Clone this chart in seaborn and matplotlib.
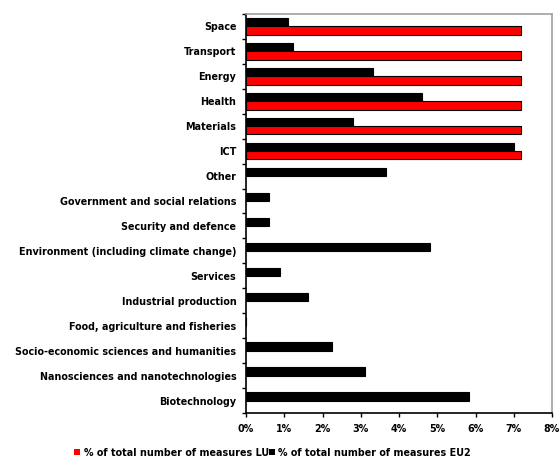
import matplotlib
matplotlib.use("Agg")
import matplotlib.pyplot as plt
from matplotlib.patches import Patch
from matplotlib.ticker import PercentFormatter, FixedLocator
import numpy as np
import pandas as pd
import seaborn as sns

categories = [
    "Space", "Transport", "Energy", "Health", "Materials", "ICT", "Other",
    "Government and social relations", "Security and defence",
    "Environment (including climate change)", "Services",
    "Industrial production", "Food, agriculture and fisheries",
    "Socio-economic sciences and humanities",
    "Nanosciences and nanotechnologies", "Biotechnology",
]
# share of measures (%) per theme
eu2_values = [1.11, 1.22, 3.33, 4.60, 2.79, 7.00, 3.66,
              0.61, 0.61, 4.80, 0.90, 1.63, 0.0, 2.26, 3.12, 5.84]
lu_values = [7.19, 7.19, 7.19, 7.19, 7.19, 7.19, np.nan,
             np.nan, np.nan, np.nan, np.nan, np.nan, np.nan, np.nan, np.nan, np.nan]
series_lu = "% of total number of measures LU"
series_eu2 = "% of total number of measures EU2"
x_ticks = [0, 1, 2, 3, 4, 5, 6, 7, 8]

df = pd.concat([
    pd.DataFrame({"theme": categories, "value": eu2_values, "series": series_eu2}),
    pd.DataFrame({"theme": categories, "value": lu_values, "series": series_lu}),
], ignore_index=True)

sns.set_theme(style="white")
plt.rcParams["font.family"] = ["DejaVu Sans"]
plt.rcParams["text.color"] = "#000000"

fig = plt.figure(figsize=(5.6, 4.61), dpi=100)
ax = fig.add_axes([246 / 560, 1 - 413 / 461, (552 - 246) / 560, (413 - 14) / 461])

sns.barplot(
    data=df, y="theme", x="value", hue="series", order=categories,
    hue_order=[series_eu2, series_lu],
    palette={series_eu2: "#000000", series_lu: "#ff0000"},
    saturation=1, orient="h", width=0.66, edgecolor="#000000", linewidth=0.8,
    legend=False, ax=ax,
)

ax.set_xlim(0, 8)
ax.set_ylim(len(categories) - 0.5, -0.5)
ax.xaxis.set_major_locator(FixedLocator(x_ticks))
ax.xaxis.set_major_formatter(PercentFormatter(xmax=100, decimals=0))
ax.set_xlabel("")
ax.set_ylabel("")

ax.set_yticks(np.arange(len(categories)))
ax.set_yticklabels(categories)
ax.set_yticks(np.arange(-0.5, len(categories), 1.0), minor=True)
ax.tick_params(axis="y", which="major", length=0, pad=7, labelsize=6.9, colors="#000000")
ax.tick_params(axis="y", which="minor", length=3, width=1, color="#000000", left=True)
ax.tick_params(axis="x", which="major", length=3, width=1, color="#000000",
               bottom=True, labelsize=6.9, pad=5, colors="#000000")
for lab in ax.get_yticklabels() + ax.get_xticklabels():
    lab.set_fontweight("bold")

for side in ["left", "bottom"]:
    ax.spines[side].set_color("#000000")
    ax.spines[side].set_linewidth(1.2)
for side in ["top", "right"]:
    ax.spines[side].set_color("#a0a0a0")
    ax.spines[side].set_linewidth(1.2)

handles = [Patch(facecolor="#ff0000", edgecolor="none"),
           Patch(facecolor="#000000", edgecolor="none")]
fig.legend(handles, [series_lu, series_eu2], loc="center",
           bbox_to_anchor=(0.487, 0.018), ncol=2, frameon=False,
           handlelength=0.6, handleheight=0.6, handletextpad=0.4,
           columnspacing=0.0, prop={"size": 6.9, "weight": "bold"})

fig.savefig("out.png", dpi=100)
